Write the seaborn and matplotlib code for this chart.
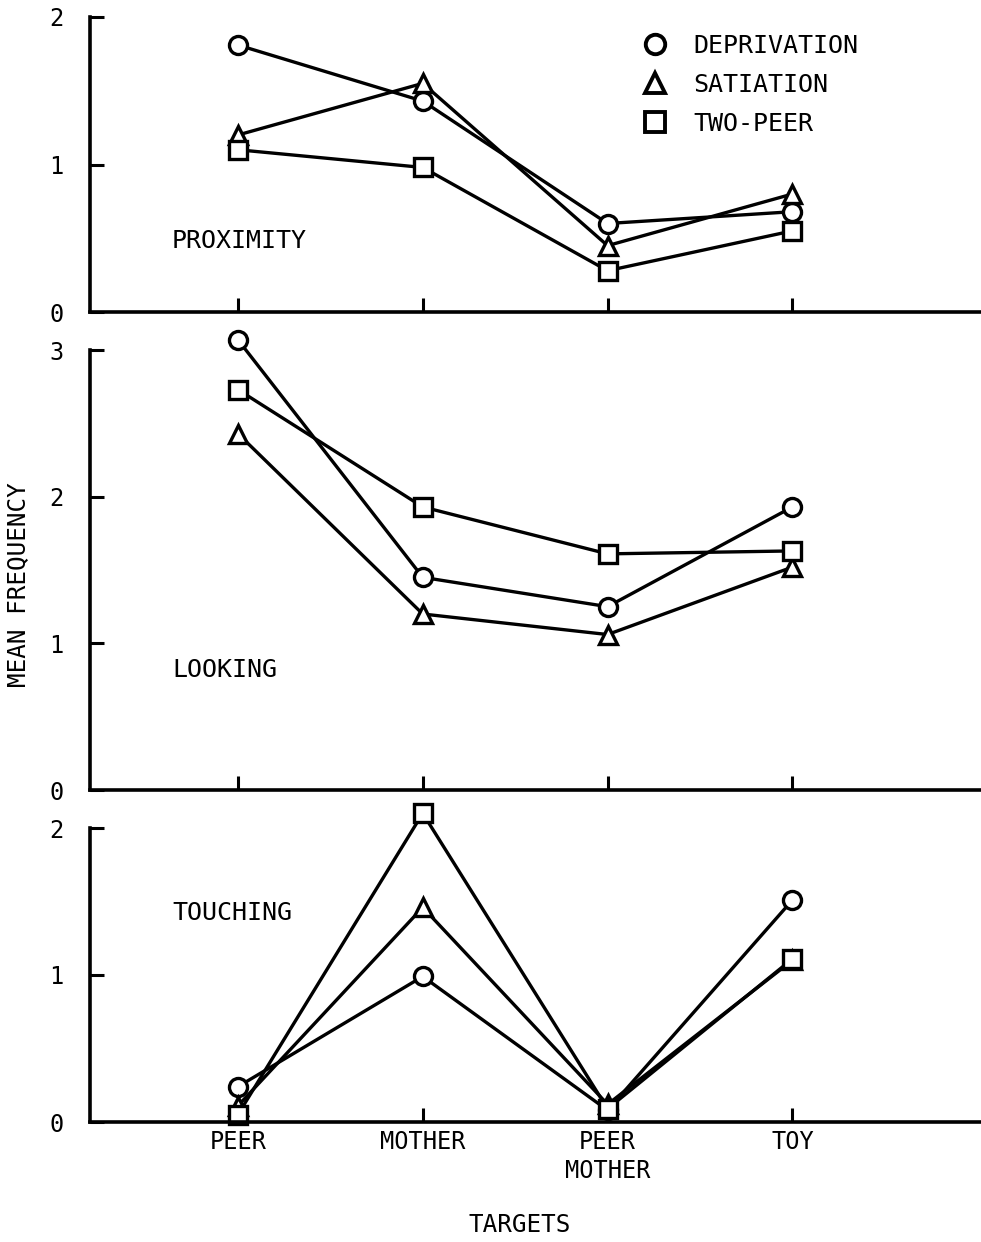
import pandas as pd
import matplotlib.pyplot as plt
from matplotlib.lines import Line2D
import seaborn as sns

# Данные
targets = ['PEER', 'MOTHER', 'PEER\nMOTHER', 'TOY']
conditions = ['DEPRIVATION', 'SATIATION', 'TWO-PEER']
panels = ['PROXIMITY', 'LOOKING', 'TOUCHING']

proximity_deprivation = [1.81, 1.43, 0.60, 0.68]
proximity_satiation = [1.20, 1.55, 0.45, 0.80]
proximity_two_peer = [1.10, 0.98, 0.28, 0.55]

looking_deprivation = [3.07, 1.45, 1.25, 1.93]
looking_satiation = [2.43, 1.20, 1.06, 1.52]
looking_two_peer = [2.73, 1.93, 1.61, 1.63]

touching_deprivation = [0.24, 0.99, 0.08, 1.51]
touching_satiation = [0.11, 1.46, 0.12, 1.10]
touching_two_peer = [0.05, 2.10, 0.09, 1.11]

y_ticks = [[0, 1, 2], [0, 1, 2, 3], [0, 1, 2]]

values = {
    'PROXIMITY': [proximity_deprivation, proximity_satiation, proximity_two_peer],
    'LOOKING': [looking_deprivation, looking_satiation, looking_two_peer],
    'TOUCHING': [touching_deprivation, touching_satiation, touching_two_peer],
}

rows = []
for panel in panels:
    for cond, series in zip(conditions, values[panel]):
        for i, v in enumerate(series):
            rows.append({'panel': panel, 'condition': cond, 'pos': i, 'value': v})
df = pd.DataFrame(rows)

sns.set_style('ticks')
plt.rcParams['font.family'] = ['DejaVu Sans Mono', 'DejaVu Sans']
plt.rcParams['text.color'] = 'black'
plt.rcParams['axes.labelcolor'] = 'black'
plt.rcParams['xtick.color'] = 'black'
plt.rcParams['ytick.color'] = 'black'

markers = {'DEPRIVATION': 'o', 'SATIATION': '^', 'TWO-PEER': 's'}

fig = plt.figure(figsize=(9.81, 12.42), dpi=100)
# положения панелей в пикселях: (верх, низ)
boxes = [(17, 312), (350, 790), (828, 1122)]
H = 1242.0
left = 90 / 981.0

for k, panel in enumerate(panels):
    top, bottom = boxes[k]
    ax = fig.add_axes([left, 1 - bottom / H, 1 - left, (bottom - top) / H])
    sns.lineplot(data=df[df.panel == panel], x='pos', y='value',
                 style='condition', style_order=conditions, markers=markers,
                 dashes=False, color='black', linewidth=2.4,
                 markersize=13, markeredgewidth=2.4,
                 markerfacecolor='white', markeredgecolor='black',
                 clip_on=False, legend=False, ax=ax)
    ax.set_xlim(-0.8, 4.02)
    ax.set_ylim(0, y_ticks[k][-1])
    ax.set_yticks(y_ticks[k])
    ax.set_xticks(range(len(targets)))
    if k == 2:
        ax.set_xticklabels(targets, fontsize=17.5, linespacing=1.25)
    else:
        ax.set_xticklabels([])
    ax.set_xlabel('')
    ax.set_ylabel('')
    ax.tick_params(axis='both', direction='in', length=10, width=2.2,
                   labelsize=17, color='black', labelcolor='black')
    ax.tick_params(axis='y', pad=19)
    ax.tick_params(axis='x', pad=6)
    for s in ['top', 'right']:
        ax.spines[s].set_visible(False)
    for s in ['left', 'bottom']:
        ax.spines[s].set_linewidth(2.6)
        ax.spines[s].set_color('black')
    ax.patch.set_alpha(0)
    # подпись панели
    label_y = {0: 241, 1: 670, 2: 913}[k]
    fig.text(172 / 981.0, 1 - label_y / H, panel, fontsize=18,
             va='center', ha='left', color='black')

    if k == 0:
        handles = [Line2D([], [], linestyle='none', marker=markers[c],
                          markersize=14, markeredgewidth=2.8,
                          markerfacecolor='white', markeredgecolor='black')
                   for c in conditions]
        fig.legend(handles, conditions, loc='upper left',
                   bbox_to_anchor=(641 / 981.0, 1 - 34 / H),
                   frameon=False, fontsize=18, handlelength=1.1,
                   handletextpad=1.0, labelspacing=0.6, borderpad=0,
                   borderaxespad=0, labelcolor='black')

fig.text(18 / 981.0, 1 - 585 / H, 'MEAN FREQUENCY', rotation=90,
         fontsize=17.5, va='center', ha='center', color='black')
fig.text(520 / 981.0, 1 - 1225 / H, 'TARGETS', fontsize=17.5,
         va='center', ha='center', color='black')

fig.savefig('out.png', dpi=100)
